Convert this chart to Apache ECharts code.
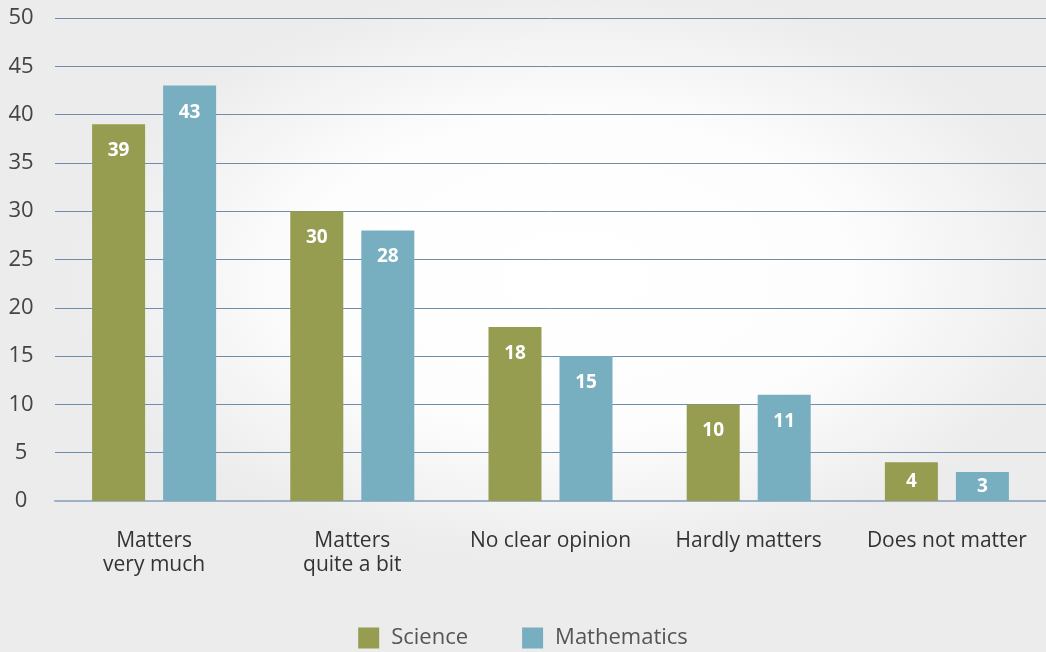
<!DOCTYPE html>
<html>
<head>
<meta charset="utf-8">
<script src="https://cdn.jsdelivr.net/npm/echarts@6/dist/echarts.min.js"></script>
<style>
  html, body { margin: 0; padding: 0; }
  #main {
    width: 1046px; height: 652px;
    background: radial-gradient(ellipse 48% 44% at 55% 42%, #ffffff 0%, #fdfdfd 55%, #ececec 100%), #e9e9e9;
  }
</style>
</head>
<body>
<div id="main"></div>
<script>
// categories and values
const categories = ['Matters\nvery much', 'Matters\nquite a bit', 'No clear opinion', 'Hardly matters', 'Does not matter']
const scienceValues = [39, 30, 18, 10, 4]
const mathValues = [43, 28, 15, 11, 3]

const chart = echarts.init(document.getElementById('main'))

// small bars get the label centred instead of near the top
function withLabels(values) {
  return values.map(v => v < 8 ? { value: v, label: { position: 'inside' } } : v)
}

const labelStyle = {
  show: true,
  position: 'insideTop',
  distance: 17,
  color: '#fff',
  fontSize: 19,
  fontWeight: 'bold',
  fontFamily: 'Open Sans'
}

const option = {
  textStyle: { fontFamily: 'Open Sans' },
  grid: {
    top: 18,
    left: 55,
    right: 0,
    bottom: 151
  },
  legend: {
    bottom: -2,
    left: 'center',
    itemWidth: 21,
    itemHeight: 21,
    itemGap: 54,
    icon: 'rect',
    textStyle: { color: '#555', fontSize: 22, fontFamily: 'Open Sans', padding: [0, 0, 0, 7] },
    data: ['Science', 'Mathematics']
  },
  xAxis: {
    type: 'category',
    data: categories,
    axisTick: { show: false },
    axisLine: { lineStyle: { color: '#9fb0c4', width: 2 } },
    axisLabel: {
      interval: 0,
      hideOverlap: false,
      color: '#333',
      fontSize: 21,
      lineHeight: 24,
      margin: 28,
      fontFamily: 'Open Sans'
    }
  },
  yAxis: {
    type: 'value',
    min: 0,
    max: 50,
    interval: 5,
    axisLine: { show: false },
    axisTick: { show: false },
    axisLabel: {
      color: '#444',
      fontSize: 22,
      align: 'center',
      margin: 34,
      fontFamily: 'Open Sans'
    },
    splitLine: { lineStyle: { color: '#6f8caa', width: 1 } }
  },
  series: [
    {
      name: 'Science',
      type: 'bar',
      barWidth: 53,
      barGap: '34%',
      itemStyle: { color: '#969d50' },
      label: labelStyle,
      data: withLabels(scienceValues)
    },
    {
      name: 'Mathematics',
      type: 'bar',
      barWidth: 53,
      barGap: '34%',
      itemStyle: { color: '#78afc0' },
      label: labelStyle,
      data: withLabels(mathValues)
    }
  ]
}

option && chart.setOption(option)
</script>
</body>
</html>
